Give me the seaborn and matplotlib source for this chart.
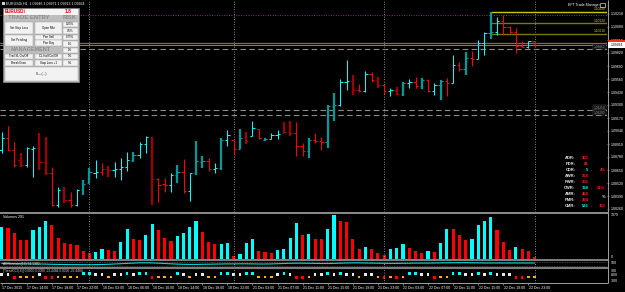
import numpy as np
import pandas as pd
import matplotlib
matplotlib.use("Agg")
import matplotlib.pyplot as plt
import matplotlib.transforms as mtrans
from matplotlib.patches import Rectangle
import seaborn as sns

sns.set_theme(style="dark", rc={"axes.facecolor": "black", "figure.facecolor": "black"})
plt.rcParams['font.family'] = ['Liberation Sans', 'DejaVu Sans']

# ---------------- data (EURUSDi H1) ----------------
bar_index = np.arange(86)
high = np.array([10903,10909,10893,10882,10888,10889,10902,10898,10868,10848,10848,10843,10846,10855,10867,10875,10872,10869,10873,10877,
                 10883,10883,10893,10899,10898,10857,10857,10862,10870,10876,10862,10894,10879,10877,10872,10897,10905,10895,10906,10903,
                 10914,10906,10897,10902,10905,10913,10914,10913,10892,10897,10902,10898,10930,10942,10956,10975,10960,10951,10964,10963,
                 10958,10951,10947,10948,10953,10956,10958,10957,10956,10952,10955,10957,10980,10973,10983,10984,10995,11003,11023,11018,
                 11020,11009,11007,10994,10994,10994]) / 10000
low = np.array([10882,10885,10868,10868,10868,10858,10865,10860,10829,10828,10832,10828,10829,10840,10852,10857,10860,10858,10858,10855,
                10864,10873,10877,10882,10830,10833,10843,10843,10852,10842,10834,10860,10867,10864,10862,10865,10889,10880,10886,10891,
                10899,10896,10894,10896,10896,10902,10899,10879,10879,10877,10892,10885,10887,10914,10929,10945,10940,10943,10943,10953,
                10947,10941,10939,10940,10939,10947,10947,10946,10943,10940,10935,10939,10952,10964,10960,10969,10976,10980,10996,11000,
                11000,11002,10982,10988,10987,10988]) / 10000
open_ = np.array([10885,10897,10885,10875,10870,10886,10887,10873,10862,10830,10845,10835,10830,10845,10852,10862,10863,10866,10865,10866,
                  10868,10875,10880,10891,10898,10856,10851,10850,10860,10863,10844,10862,10873,10874,10866,10867,10895,10895,10886,10897,
                  10899,10906,10895,10896,10900,10902,10903,10902,10889,10884,10895,10894,10893,10929,10930,10953,10954,10945,10944,10961,
                  10955,10950,10944,10945,10941,10952,10953,10949,10955,10944,10950,10954,10952,10970,10966,10977,10976,10992,11002,11003,
                  11014,11008,11003,10989,10988,10994]) / 10000
close = np.array([10897,10885,10870,10870,10887,10887,10873,10862,10830,10845,10835,10830,10845,10851,10863,10863,10866,10865,10866,10868,
                  10875,10880,10891,10898,10856,10850,10850,10860,10863,10844,10862,10874,10874,10866,10867,10895,10900,10886,10897,10894,
                  10907,10897,10896,10900,10901,10903,10902,10889,10884,10895,10894,10893,10929,10930,10953,10954,10945,10944,10961,10955,
                  10950,10944,10945,10941,10952,10953,10949,10955,10944,10950,10954,10952,10970,10966,10977,10976,10992,11002,11003,11014,
                  11008,11003,10989,10988,10994,10992]) / 10000
bar_kind = list("crrDccDDrcDrcttcrDcccTccDrrctrcttrctcrtDcrtccDDrrtrrttccDrcrDrcDtcrtrctrcrtrcctcrrrrcr")
# c = up (aqua), t = up (dark cyan), r = down (red), D = down (dark red)
bar_kind = ['t' if k == 'T' else k for k in bar_kind]

volume = np.array([960,930,780,560,560,850,960,1120,1000,610,460,430,410,230,180,200,300,280,230,500,
                   880,580,560,700,1030,860,610,530,680,780,950,1130,800,510,430,450,460,80,160,460,
                   600,230,210,180,280,300,610,1060,700,730,580,580,880,1300,1130,1080,580,310,360,310,
                   180,130,300,330,430,330,230,180,230,210,480,880,880,700,560,580,1000,1110,1250,850,
                   500,280,360,300,230,60])

adx_line = np.array([30,30,29,28,27,26,25,24,22,21,20,19,19,18,18,19,20,22,25,28,
                     31,34,37,37,36,33,30,27,24,22,21,21,22,23,24,25,26,26,27,27,
                     26,25,25,26,28,30,32,33,33,32,31,30,30,31,33,35,36,36,35,34,
                     33,32,31,31,32,33,34,34,34,35,36,37,38,38,38,37,36,35,35,35,
                     35,35,35,35,35,35])

cci_state = list("wwrooowrroooocc" "wwowwcwccrooocwowwoocc" "wwccooowcwrro"
                 "wwcwcwwowwororoccwwroocc" "wwcwcwwwrrooo")
cci_state = (cci_state + ['o'] * 86)[:86]
cci_state_value = {'c': 150, 'w': 100, 'o': -60, 'r': -100}

price_ticks = [1.1021,1.1008,1.0995,1.0982,1.0969,1.0956,1.0943,1.0930,1.0917,1.0904,1.0891,1.0878,1.0865,1.0852,1.0839,1.0826]
tp_levels = [1.1023, 1.1012, 1.1001]
purple_level = 1.1020
bid_level = 1.09924
grey_level = 1.0990
dashed_levels = [1.0986, 1.0925, 1.0920]
day_starts = [14, 37, 61, 85]
x_label_pos = list(range(0, 85, 4))
x_labels = ["17 Dec 2015","17 Dec 14:00","17 Dec 18:00","17 Dec 22:00","18 Dec 02:00","18 Dec 06:00",
            "18 Dec 10:00","18 Dec 14:00","18 Dec 18:00","18 Dec 22:00","21 Dec 03:00","21 Dec 07:00",
            "21 Dec 11:00","21 Dec 15:00","21 Dec 19:00","21 Dec 23:00","22 Dec 03:00","22 Dec 07:00",
            "22 Dec 11:00","22 Dec 15:00","22 Dec 19:00","22 Dec 23:00"]

stat_names = ['ADR:','PDR:','CDR:','AWR:','PWR:','CWR:','AMR:','PMR:','CMR:']
stat_values = [101, 81, 5, 264, 256, 138, 468, 494, 526]
stat_current = [False, False, True, False, False, True, False, False, True]
stat_pct = {2: '4%', 5: '51%', 8: '115'}

# ---------------- figure ----------------
W, H = 625, 292
fig = plt.figure(figsize=(W / 100, H / 100), dpi=100)
fig.patch.set_facecolor('black')
XLIM = (-0.27, 96.54)
SMALL = 2.5
GREY = '#9a9a9a'


def px_axes(x0, y0, x1, y1):
    a = fig.add_axes([x0 / W, 1 - y1 / H, (x1 - x0) / W, (y1 - y0) / H])
    a.set_facecolor('black')
    for s in a.spines.values():
        s.set_visible(False)
    a.grid(False)
    a.set_xlim(*XLIM)
    return a


COLORS = {'c': '#00FFFF', 't': '#009a9a', 'r': '#FF0000', 'D': '#a00000'}
WIDTHS = {'c': 0.75, 't': 1.6, 'r': 0.75, 'D': 1.6}

# main price panel
ax = px_axes(0, 0, 607, 212)
ax.set_ylim(1.0823, 1.1035)
kinds = np.array(bar_kind)
for k in 'tDcr':
    m = kinds == k
    ax.vlines(bar_index[m], low[m], high[m], color=COLORS[k], lw=WIDTHS[k], zorder=5)
    ax.hlines(open_[m], bar_index[m] - 0.36, bar_index[m], color=COLORS[k], lw=0.75, zorder=5)
    ax.hlines(close[m], bar_index[m], bar_index[m] + 0.36, color=COLORS[k], lw=0.75, zorder=5)

ax.axhline(purple_level, color='#8a2a8a', lw=0.7, ls=(0, (1, 1.5)), zorder=3)
tp_cols = ['#c8c800', '#7a7a00', '#7a7a00']
for lvl, col in zip(tp_levels, tp_cols):
    ax.hlines(lvl, 78, XLIM[1], color=col, lw=1.0, zorder=3)
ax.axhline(bid_level, color='#c0581e', lw=0.9, zorder=3)
ax.axhline(grey_level, color='#808080', lw=0.7, zorder=3)
for lvl in dashed_levels:
    ax.axhline(lvl, color='#8a8a8a', lw=0.8, ls=(0, (5, 3)), zorder=3)
for d in day_starts:
    ax.axvline(d, color='#b0b0b0', lw=0.6, ls=(0, (1, 2)), zorder=2)

ax.set_xticks([])
ax.yaxis.tick_right()
ax.set_yticks(price_ticks)
ax.set_yticklabels([f"{p:.5f}" for p in price_ticks])
ax.tick_params(axis='y', right=True, length=1.5, width=0.5, color='#a0a0a0',
               labelcolor='white', labelsize=SMALL, pad=1.5)

btr = mtrans.blended_transform_factory(ax.transAxes, ax.transData)
for lvl in tp_levels:
    ax.text(0.997, lvl + 0.00005, f"{lvl:.5f}", transform=btr, ha='right', va='bottom',
            fontsize=2.3, color='#d8d800', zorder=6)
for lvl in dashed_levels:
    ax.text(0.997, lvl + 0.00003, f"{lvl:.5f}", transform=btr, ha='right', va='bottom',
            fontsize=2.3, color='#b0b0b0', zorder=6,
            bbox=dict(boxstyle='square,pad=0.15', fc='black', ec='#707070', lw=0.3))

# volume panel
vax = px_axes(0, 214, 607, 259)
vdir = ['up'] + ['up' if volume[i] > volume[i - 1] else 'down' for i in range(1, len(volume))]
vdf = pd.DataFrame({'bar': bar_index, 'volume': volume, 'dir': vdir})
sns.barplot(data=vdf, x='bar', y='volume', hue='dir', palette={'up': '#00FFFF', 'down': '#FF0000'},
            native_scale=True, dodge=False, width=0.5, saturation=1, linewidth=0, legend=False, ax=vax)
vax.set_xlim(*XLIM)
vax.set_ylim(0, 1330)
vax.set_xticks([]); vax.set_yticks([])
vax.set_xlabel(''); vax.set_ylabel('')
for d in day_starts:
    vax.axvline(d, color='#b0b0b0', lw=0.6, ls=(0, (1, 2)), zorder=2)

# indicator panel 1
p1 = px_axes(0, 261.5, 607, 266.5)
p1.set_ylim(0, 50)
p1.axhline(8, color='#5a5a5a', lw=0.6, ls=(0, (1, 1)))
p1.axhline(44, color='#5a5a5a', lw=0.6, ls=(0, (1, 1)))
sns.lineplot(x=bar_index, y=adx_line, color='#00d8d8', lw=0.8, ax=p1)
p1.set_xlim(*XLIM)
p1.set_xticks([]); p1.set_yticks([])
for d in day_starts:
    p1.axvline(d, color='#b0b0b0', lw=0.6, ls=(0, (1, 2)), zorder=2)

# indicator panel 2 (TrendCCI)
p2 = px_axes(0, 269, 607, 282.5)
p2.set_ylim(-375, 404)
cdf = pd.DataFrame({'bar': bar_index, 'state': cci_state,
                    'value': [cci_state_value[s] for s in cci_state]})
sns.scatterplot(data=cdf, x='bar', y='value', hue='state',
                palette={'c': '#00FFFF', 'w': '#e8e8e8', 'o': '#FFB000', 'r': '#FF0000'},
                marker='s', s=3.5, linewidth=0, legend=False, ax=p2)
p2.set_xlim(*XLIM)
p2.set_ylim(-375, 404)
p2.set_xticks([]); p2.set_yticks([])
p2.set_xlabel(''); p2.set_ylabel('')
for d in day_starts:
    p2.axvline(d, color='#b0b0b0', lw=0.6, ls=(0, (1, 2)), zorder=2)

# ---------------- overlay (frames, labels, widgets) ----------------
ov = fig.add_axes([0, 0, 1, 1])
ov.set_xlim(0, W); ov.set_ylim(H, 0)
ov.axis('off')
ov.patch.set_alpha(0)
ov.set_zorder(10)


def R(x0, y0, x1, y1, fc, ec='none', lw=0.4, z=20):
    ov.add_patch(Rectangle((x0, y0), x1 - x0, y1 - y0, facecolor=fc, edgecolor=ec, linewidth=lw, zorder=z))


def T(x, y, s, size=SMALL, color='white', ha='left', va='center', weight='normal', z=25):
    ov.text(x, y, s, fontsize=size, color=color, ha=ha, va=va, fontweight=weight, zorder=z)


# separators and axes lines
for yy, lw in [(213, 1.4), (260.3, 1.3), (267.7, 1.3)]:
    ov.hlines(yy, 0, 607.5, color='#8c8c8c', lw=lw, zorder=15)
ov.hlines(283, 0, 608, color='#a0a0a0', lw=0.7, zorder=15)
ov.vlines(607.8, 0, 283, color='#a0a0a0', lw=0.7, zorder=15)

# x labels
for pos, lab in zip(x_label_pos, x_labels):
    xp = 1.7 + 6.27 * pos
    ov.vlines(xp, 283, 285, color='#a0a0a0', lw=0.5, zorder=15)
    T(xp + 0.5, 288, lab, size=SMALL)

# header
T(6, 3.5, "EURUSDi,H1  1.09946 1.09971 1.09913 1.09924", size=2.6)
R(2, 1.8, 5, 5, '#d0d0d0', z=22)
T(568, 5, "EFT Trade Manager", size=2.6)
R(600, 2.5, 605, 7, 'none', ec='white', lw=0.4)

# bid box on right axis
R(608, 39.5, 625, 42, '#ff3010')
R(608, 42, 625, 47.5, 'white')
T(611, 44.9, f"{bid_level:.5f}", size=2.4, color='black')

# right axis labels of lower panels
T(611, 215.5, "1379", size=SMALL)
T(611, 257.5, "0", size=SMALL)
T(611, 263.5, "100", size=SMALL)
T(611, 270.5, "300", size=SMALL)
T(611, 275.5, "0.00", size=SMALL)
T(611, 280.5, "-300", size=SMALL)

# panel labels
T(3, 216.8, "Volumes 291", size=2.6)
T(3, 263.6, "ADXcrosses(14) 14.1380", size=2.3, color='#d0d0d0')
T(3, 271, "[TrendCCI(-6)] 0.0000 0.0000 -22.4484 0.0000 -22.4484", size=2.3, color='#d0d0d0')

# range statistics
for k, (nm, val, cur) in enumerate(zip(stat_names, stat_values, stat_current)):
    yy = 158 + 6 * k
    T(575.5, yy, nm, size=3.0, color='#e6e6e6', ha='right', weight='bold')
    T(588.5, yy, str(val), size=3.0, color='#00FFFF' if cur else '#ff2020', ha='right', weight='bold')
    if k in stat_pct:
        T(592, yy, "-", size=3.0, color='#ff2020', ha='center', weight='bold')
        T(605.5, yy, stat_pct[k], size=3.0, color='#ff2020', ha='right', weight='bold')
T(605.5, 196.5, "%", size=3.0, color='#e6e6e6', ha='right', weight='bold')

# trade entry panel
R(3, 7.5, 79, 82, '#bdbdbd', ec='#8a8a8a', lw=0.5)
R(4, 8.5, 78, 15, '#f4f4f4')
T(5, 11.8, "EURUSDi", size=3.3, color='#ff0000', weight='bold')
T(72, 11.8, "1.8", size=3.6, color='#ff0000', weight='bold', ha='right')
T(8, 17.8, "TRADE ENTRY", size=4.2, color='#8c8c8c', weight='bold')
T(63, 17.8, "RISK", size=4.2, color='#8c8c8c', weight='bold')
T(11, 49.6, "MANAGEMENT", size=4.0, color='#8c8c8c', weight='bold')
buttons = [
    (5, 21.5, 33, 33.5, "Set Stop Loss"), (34.5, 21.5, 62, 33.5, "Open Mkt"),
    (63, 21.5, 77.5, 27, "0.25%"), (63, 28, 77.5, 33.5, "0.5%"),
    (5, 34.5, 33, 45.5, "Set Pending"), (34.5, 34.5, 62, 39.7, "Pen Sell"),
    (34.5, 40.3, 62, 45.5, "Pen Buy"), (63, 34.5, 77.5, 40, "0.75%"),
    (63, 41, 77.5, 46.5, "1%"), (63, 47.5, 77.5, 52.5, "2%"),
    (5, 53.5, 33, 59, "Trail SL On/Off"), (34.5, 53.5, 62, 59, "CL Half On/Off"),
    (63, 53.5, 77.5, 59, "3%"), (5, 60, 33, 66, "Break Even"),
    (34.5, 60, 62, 66, "Stop Loss +1"), (63, 60, 77.5, 66, "5%"),
    (5, 67, 77.5, 81, "S--- (---)"),
]
for x0, y0, x1, y1, lab in buttons:
    R(x0, y0, x1, y1, '#f2f2f2', ec='#9a9a9a', lw=0.3, z=21)
    T((x0 + x1) / 2, (y0 + y1) / 2 + 0.2, lab, size=2.1, color='black', ha='center', z=26)

fig.savefig("out.png", dpi=100, facecolor='black')
